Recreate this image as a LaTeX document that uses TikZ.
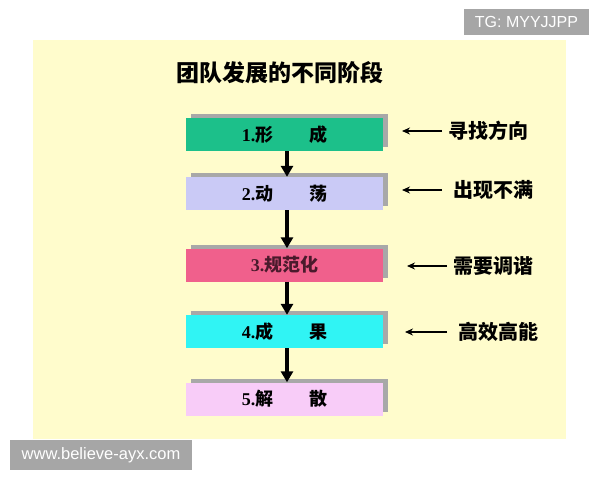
\documentclass[tikz,border=0pt]{standalone}
\usepackage{fontspec}
\newfontfamily\cjk{Noto Sans CJK SC}
\newfontfamily\lsans{Liberation Sans}
\newfontfamily\lserif{Liberation Serif}
\usetikzlibrary{arrows.meta}
\definecolor{bg}{HTML}{FFFCCC}
\definecolor{cA}{HTML}{1CC08A}
\definecolor{cB}{HTML}{CACAF6}
\definecolor{cC}{HTML}{F0608C}
\definecolor{cD}{HTML}{30F4F4}
\definecolor{cE}{HTML}{F8CCF8}
\definecolor{shd}{HTML}{A8A8A8}
\definecolor{wm}{HTML}{A6A6A6}
\definecolor{maroon}{HTML}{4A1A2C}
\begin{document}
\begin{tikzpicture}[x=1pt,y=-1pt,
  stagebox/.style={minimum width=197pt,minimum height=33pt,inner sep=0pt,
    font=\cjk\bfseries\fontsize{18}{18}\selectfont},
  shadowbox/.style={minimum width=197pt,minimum height=33pt,inner sep=0pt,fill=shd},
  note/.style={anchor=west,inner sep=0pt,font=\cjk\bfseries\fontsize{20}{20}\selectfont},
  flow/.style={line width=3.2pt,-{Triangle[length=11pt,width=12pt]}},
  pointer/.style={line width=1.8pt,-{Stealth[length=8pt,width=7pt]}}]
\useasboundingbox (0,0) rectangle (600,480);
\fill[white] (0,0) rectangle (600,480);
\fill[bg] (33,40) rectangle (566,439);

% watermarks
\node[fill=wm,minimum width=125pt,minimum height=26pt,inner sep=0pt,text=white,
  font=\lsans\fontsize{16}{16}\selectfont] (tg) at (526.5,21.5) {TG: MYYJJPP};
\node[fill=wm,minimum width=182pt,minimum height=30pt,inner sep=0pt,text=white,
  font=\lsans\fontsize{16.5}{16.5}\selectfont] (www) at (101,455) {www.believe-ayx.com};

% title
\node[inner sep=0pt,font=\cjk\bfseries\fontsize{23}{23}\selectfont] (title) at (280,73) {团队发展的不同阶段};

% shadows
\node[shadowbox] (s1) at (289.5,130.5) {};
\node[shadowbox] (s2) at (289.5,189.5) {};
\node[shadowbox] (s3) at (289.5,261) {};
\node[shadowbox] (s4) at (289.5,327.5) {};
\node[shadowbox] (s5) at (289.5,395) {};

% boxes
\node[stagebox,fill=cA] (b1) at (284.5,134.5) {{\lserif 1.}形　　成};
\node[stagebox,fill=cB] (b2) at (284.5,193.5) {{\lserif 2.}动　　荡};
\node[stagebox,fill=cC,text=maroon] (b3) at (284.5,265) {{\lserif 3.}规范化};
\node[stagebox,fill=cD] (b4) at (284.5,331.5) {{\lserif 4.}成　　果};
\node[stagebox,fill=cE] (b5) at (284.5,399) {{\lserif 5.}解　　散};

% flow arrows
\draw[flow] ([xshift=2.5pt]b1.south) -- ([xshift=2.5pt]b2.north);
\draw[flow] ([xshift=2.5pt]b2.south) -- ([xshift=2.5pt]b3.north);
\draw[flow] ([xshift=2.5pt]b3.south) -- ([xshift=2.5pt]b4.north);
\draw[flow] ([xshift=2.5pt]b4.south) -- ([xshift=2.5pt]b5.north);

% notes
\node[note] (l1) at (448,131) {寻找方向};
\node[note] (l2) at (453,190) {出现不满};
\node[note] (l3) at (453,266) {需要调谐};
\node[note] (l4) at (458,332) {高效高能};
\coordinate (p1) at (402,131);
\coordinate (p2) at (402,190);
\coordinate (p3) at (407,266);
\coordinate (p4) at (405,332);
\draw[pointer] ([xshift=-6pt]l1.west) -- (p1);
\draw[pointer] ([xshift=-11pt]l2.west) -- (p2);
\draw[pointer] ([xshift=-6pt]l3.west) -- (p3);
\draw[pointer] ([xshift=-11pt]l4.west) -- (p4);
\end{tikzpicture}
\end{document}
